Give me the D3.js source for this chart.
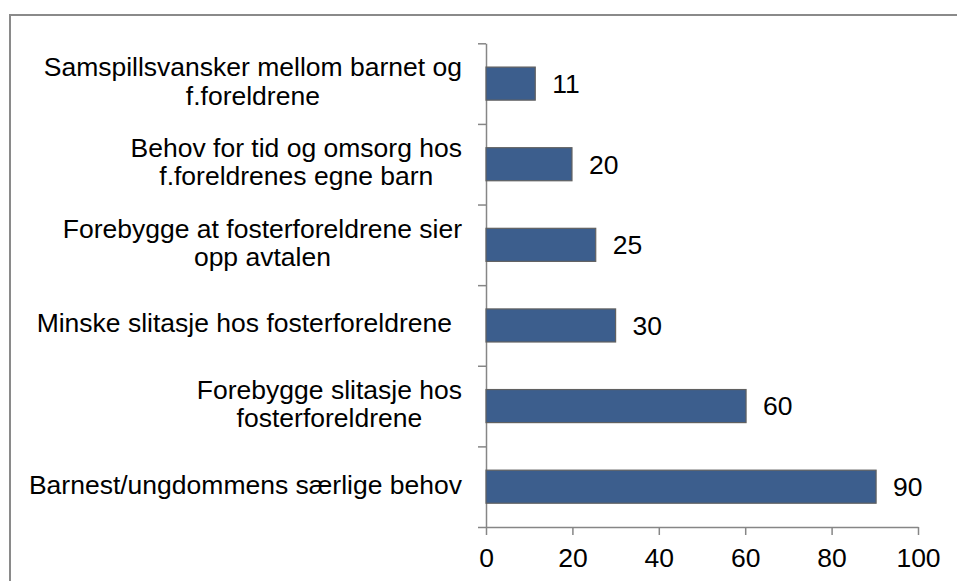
<!DOCTYPE html>
<html>
<head>
<meta charset="utf-8">
<script src="https://cdn.jsdelivr.net/npm/d3@7"></script>
<style>
  body { margin: 0; background: #fff; }
  svg text { font-family: "Liberation Sans", Arial, sans-serif; font-size: 26.5px; fill: #000; }
  .axis path, .axis line { stroke: #868686; stroke-width: 1.5px; }
</style>
</head>
<body>
<svg id="chart" width="957" height="581"></svg>
<script>
// categories, top to bottom; "\n" marks where the label wraps
var categories = [
    "Samspillsvansker mellom barnet og\nf.foreldrene",
    "Behov for tid og omsorg hos\nf.foreldrenes egne barn",
    "Forebygge at fosterforeldrene sier\nopp avtalen",
    "Minske slitasje hos fosterforeldrene",
    "Forebygge slitasje hos\nfosterforeldrene",
    "Barnest/ungdommens særlige behov"
];
var values = [11.4, 19.9, 25.4, 30, 60.2, 90.3];
var xTicks = [0, 20, 40, 60, 80, 100];

var svg = d3.select("#chart");
var m = {left: 486, right: 918, top: 43.3, bottom: 527};

// outer chart border
svg.append("rect")
    .attr("x", 10).attr("y", 15)
    .attr("width", 960).attr("height", 600)
    .attr("fill", "none")
    .attr("stroke", "#8a8a8a")
    .attr("stroke-width", 2);

var x = d3.scaleLinear().domain([0, 100]).range([m.left, m.right]);

var y = d3.scaleBand()
    .domain(categories)
    .range([m.top, m.bottom])
    .paddingInner(0.59)
    .paddingOuter(0.295);

// category boundaries for the left axis ticks
var yEdge = d3.scaleLinear().domain([0, categories.length]).range([m.top, m.bottom]);

svg.append("g")
    .attr("class", "axis")
    .attr("transform", "translate(" + m.left + ",0)")
    .call(d3.axisLeft(yEdge).tickValues(d3.range(categories.length + 1)).tickFormat("").tickSize(8).tickSizeOuter(0));

var xAxis = svg.append("g")
    .attr("class", "axis")
    .attr("transform", "translate(0," + m.bottom + ")")
    .call(d3.axisBottom(x).tickValues(xTicks).tickSize(8).tickSizeOuter(0).tickPadding(13));
xAxis.selectAll("text").style("font-size", "26.5px").style("font-family", "Liberation Sans, Arial, sans-serif").attr("fill", "#000");

// bars
svg.append("g")
  .selectAll("rect")
    .data(values)
  .enter().append("rect")
    .attr("x", x(0))
    .attr("y", function(d, i) { return y(categories[i]); })
    .attr("width", function(d) { return x(d) - x(0); })
    .attr("height", y.bandwidth())
    .attr("fill", "#3c5e8d")
    .attr("stroke", "#606060")
    .attr("stroke-width", 1.2);

// value labels
svg.append("g")
  .selectAll("text")
    .data(values)
  .enter().append("text")
    .attr("x", function(d) { return x(d) + 17; })
    .attr("y", function(d, i) { return y(categories[i]) + y.bandwidth() / 2; })
    .attr("dy", "0.35em")
    .text(function(d) { return Math.round(d); });

// category labels: centred lines, block right-aligned next to the axis
var labelRight = 462, lineH = 28.5;
categories.forEach(function(c) {
    var lines = c.split("\n");
    var cy = y(c) + y.bandwidth() / 2;
    var t = svg.append("text").attr("text-anchor", "middle");
    lines.forEach(function(l, j) {
        t.append("tspan")
            .attr("y", cy + 7 - (lines.length - 1) * lineH / 2 + j * lineH)
            .text(l);
    });
    var w = 0;
    t.selectAll("tspan").each(function() { w = Math.max(w, this.getComputedTextLength()); });
    // the one long single-line label sits a little in from the axis in the original
    var right = c.indexOf("Minske") === 0 ? labelRight - 10 : labelRight;
    t.selectAll("tspan").attr("x", right - w / 2);
});
</script>
</body>
</html>
